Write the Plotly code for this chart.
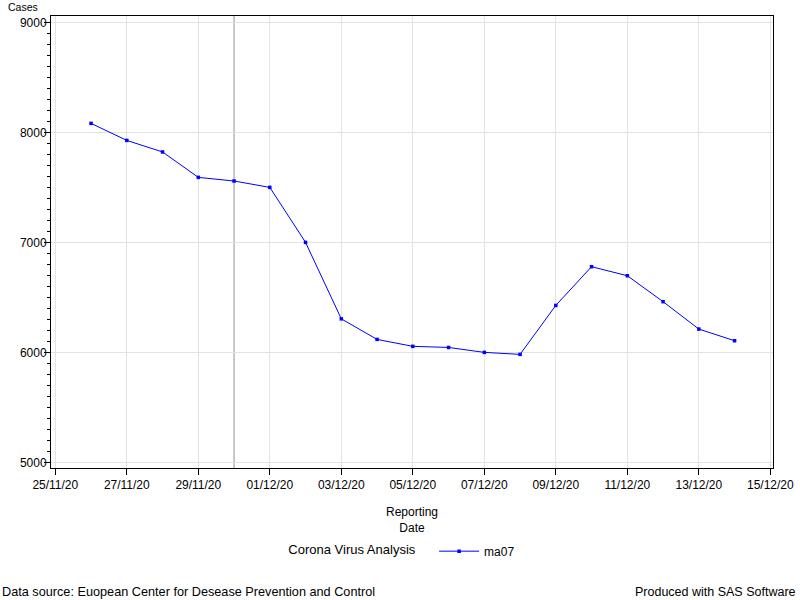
import plotly.graph_objects as go

dates = ["2020-11-26", "2020-11-27", "2020-11-28", "2020-11-29", "2020-11-30",
         "2020-12-01", "2020-12-02", "2020-12-03", "2020-12-04", "2020-12-05",
         "2020-12-06", "2020-12-07", "2020-12-08", "2020-12-09", "2020-12-10",
         "2020-12-11", "2020-12-12", "2020-12-13", "2020-12-14"]
ma07 = [8082, 7927, 7822, 7591, 7558, 7500, 7000, 6305, 6118, 6055,
        6045, 6000, 5982, 6427, 6779, 6697, 6461, 6212, 6106]
ref_date = "2020-11-30"
y_ticks = [5000, 6000, 7000, 8000, 9000]
x_ticks = ["2020-11-25", "2020-11-27", "2020-11-29", "2020-12-01", "2020-12-03",
           "2020-12-05", "2020-12-07", "2020-12-09", "2020-12-11", "2020-12-13",
           "2020-12-15"]

FONT = "Liberation Sans, Arial, sans-serif"

fig = go.Figure()
fig.add_trace(go.Scatter(
    x=dates, y=ma07, mode="lines+markers", name="ma07",
    line=dict(color="#0000ff", width=1),
    marker=dict(color="#0000ff", size=3.5, symbol="square"),
))

fig.add_shape(type="line", xref="x", yref="paper", x0=ref_date, x1=ref_date,
              y0=0, y1=1, line=dict(color="#909090", width=1), layer="below")

fig.update_layout(
    width=800, height=600,
    margin=dict(l=51, r=27, t=16, b=132),
    paper_bgcolor="white", plot_bgcolor="white",
    font=dict(family=FONT, size=12, color="black"),
    showlegend=True,
    legend=dict(orientation="h", x=0.488, xanchor="center", y=-0.184, yanchor="middle",
                title=dict(text="Corona Virus Analysis   ", side="left",
                           font=dict(size=13)),
                font=dict(size=12), itemwidth=40),
    xaxis=dict(
        type="date", range=["2020-11-24 21:07", "2020-12-15 01:48"],
        tickvals=x_ticks,
        tickformat="%d/%m/%y",
        automargin=False,
        showgrid=True, gridcolor="#e3e3e3", gridwidth=1,
        showline=True, linecolor="black", linewidth=1, mirror=True,
        ticks="outside", ticklen=6, tickcolor="black",
        zeroline=False,
    ),
    yaxis=dict(
        range=[4949, 9058],
        tickvals=y_ticks,
        automargin=False,
        showgrid=True, gridcolor="#e3e3e3", gridwidth=1,
        showline=True, linecolor="black", linewidth=1, mirror=True,
        ticks="outside", ticklen=6, tickcolor="black",
        ticklabelstandoff=-5,
        minor=dict(dtick=100, ticks="outside", ticklen=3, tickcolor="black", showgrid=False),
        zeroline=False,
    ),
    annotations=[
        dict(text="Cases", xref="paper", yref="paper", x=-0.062, y=1.0, yshift=1,
             xanchor="left", yanchor="bottom", showarrow=False, font=dict(size=10.5)),
        dict(text="Reporting<br>Date", xref="paper", yref="paper", x=0.5, y=-0.078,
             xanchor="center", yanchor="top", showarrow=False, font=dict(size=12)),
        dict(text="Data source: Euopean Center for Desease Prevention and Control",
             xref="paper", yref="paper", x=-0.0706, y=-0.274, xanchor="left",
             yanchor="middle", showarrow=False, font=dict(size=12.7)),
        dict(text="Produced with SAS Software",
             xref="paper", yref="paper", x=1.0346, y=-0.274, xanchor="right",
             yanchor="middle", showarrow=False, font=dict(size=12.5)),
    ],
)

fig.write_html("out.html", config={"displayModeBar": False},
               post_script="document.body.style.margin='0px';")
